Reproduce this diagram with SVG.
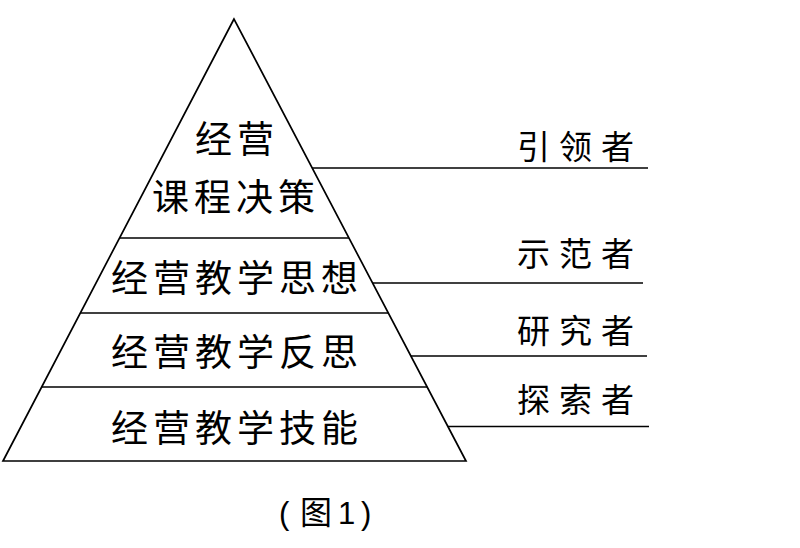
<svg xmlns="http://www.w3.org/2000/svg" width="800" height="548" viewBox="0 0 800 548">
<style>
.ln{stroke:#000;stroke-width:1.7;fill:none}
.t{font-family:"Noto Sans CJK SC","Noto Sans CJK JP",sans-serif;font-size:37px;letter-spacing:5px;fill:#000;dominant-baseline:central}
.r{font-family:"Noto Sans CJK SC","Noto Sans CJK JP",sans-serif;font-size:33px;letter-spacing:9px;fill:#000;dominant-baseline:central}
.c{font-family:"Liberation Sans","Noto Sans CJK SC",sans-serif;font-size:31px;fill:#000;dominant-baseline:central}
</style>
<rect width="800" height="548" fill="#fff"/>
<g id="pyramid">
<polygon class="ln" points="234,19 3,461 466,461"/>
<line class="ln" x1="119.5" y1="238" x2="348.9" y2="238"/>
<line class="ln" x1="80.3" y1="313" x2="388.3" y2="313"/>
<line class="ln" x1="41.7" y1="387" x2="427.2" y2="387"/>
</g>
<g id="tier1">
<text class="t" x="195" y="137">经营</text>
<text class="t" x="152" y="195">课程决策</text>
</g>
<g id="tier2"><text class="t" x="111" y="275.5">经营教学思想</text></g>
<g id="tier3"><text class="t" x="111" y="350">经营教学反思</text></g>
<g id="tier4"><text class="t" x="111" y="425.5">经营教学技能</text></g>
<g id="connectors">
<line class="ln" x1="312.2" y1="168" x2="648" y2="168"/>
<line class="ln" x1="372.6" y1="283" x2="643" y2="283"/>
<line class="ln" x1="410.9" y1="356" x2="647" y2="356"/>
<line class="ln" x1="447.9" y1="426.5" x2="649" y2="426.5"/>
</g>
<g id="role1"><text class="r" x="517" y="144.5">引领者</text></g>
<g id="role2"><text class="r" x="517" y="252">示范者</text></g>
<g id="role3"><text class="r" x="517" y="329">研究者</text></g>
<g id="role4"><text class="r" x="517" y="397.5">探索者</text></g>
<g id="caption">
<text class="c" y="513"><tspan x="279">(</tspan><tspan x="300" font-size="32">图</tspan><tspan x="338">1</tspan><tspan x="361">)</tspan></text>
</g>
</svg>
